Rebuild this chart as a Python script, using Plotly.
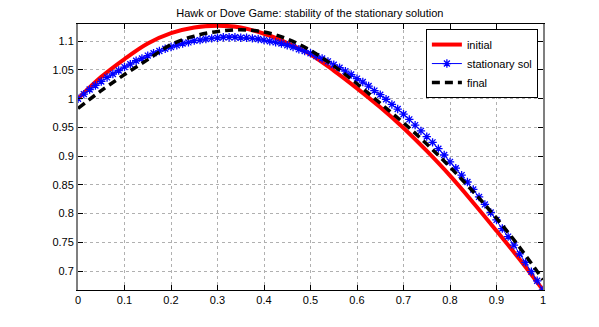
import plotly.graph_objs as go

# x grid of the stationary solution (marker points)
x_stat = [k / 80 for k in range(81)]
y_stat = [1.000, 1.008, 1.016, 1.023, 1.030, 1.037, 1.043, 1.049, 1.055, 1.060,
          1.066, 1.070, 1.075, 1.079, 1.083, 1.087, 1.090, 1.093, 1.096, 1.098,
          1.101, 1.102, 1.104, 1.105, 1.106, 1.107, 1.107, 1.107, 1.106, 1.106,
          1.105, 1.104, 1.102, 1.100, 1.098, 1.096, 1.093, 1.090, 1.086, 1.083,
          1.079, 1.074, 1.070, 1.065, 1.059, 1.054, 1.048, 1.042, 1.035, 1.029,
          1.022, 1.014, 1.007, 0.999, 0.990, 0.982, 0.973, 0.964, 0.954, 0.944,
          0.934, 0.924, 0.913, 0.902, 0.890, 0.879, 0.867, 0.855, 0.842, 0.829,
          0.816, 0.802, 0.789, 0.774, 0.760, 0.745, 0.730, 0.715, 0.699, 0.683,
          0.667]

x_curve = [0.0, 0.05, 0.1, 0.15, 0.2, 0.25, 0.3, 0.35, 0.4, 0.45, 0.5,
           0.55, 0.6, 0.65, 0.7, 0.75, 0.8, 0.85, 0.9, 0.95, 1.0]
y_initial = [1.000, 1.038, 1.069, 1.096, 1.114, 1.124, 1.127, 1.124, 1.113, 1.097, 1.077,
             1.049, 1.018, 0.985, 0.949, 0.909, 0.866, 0.819, 0.770, 0.720, 0.667]
y_final = [0.983, 1.014, 1.042, 1.068, 1.094, 1.109, 1.117, 1.120, 1.116, 1.104, 1.084,
           1.057, 1.026, 0.992, 0.958, 0.921, 0.881, 0.838, 0.792, 0.741, 0.685]

x_ticks = [0, 0.1, 0.2, 0.3, 0.4, 0.5, 0.6, 0.7, 0.8, 0.9, 1]
x_labels = ['0', '0.1', '0.2', '0.3', '0.4', '0.5', '0.6', '0.7', '0.8', '0.9', '1']
y_ticks = [0.7, 0.75, 0.8, 0.85, 0.9, 0.95, 1.0, 1.05, 1.1]
y_labels = ['0.7', '0.75', '0.8', '0.85', '0.9', '0.95', '1', '1.05', '1.1']

font_name = 'Liberation Sans, Arial, sans-serif'

data = [
    go.Scatter(x=x_curve, y=y_initial, mode='lines', name='initial', line_shape='spline',
               line=dict(color='#ff0000', width=4)),
    go.Scatter(x=x_stat, y=y_stat, mode='lines+markers', name='stationary sol',
               line=dict(color='#0000ff', width=1),
               marker=dict(symbol='asterisk', size=7, line=dict(color='#0000ff', width=1.3))),
    go.Scatter(x=x_curve, y=y_final, mode='lines', name='final', line_shape='spline',
               line=dict(color='black', width=3.5, dash='8px,5px')),
]

axis_common = dict(showgrid=True, gridcolor='#b0b0b0', griddash='dot', gridwidth=1,
                   ticks='inside', ticklen=5, tickcolor='black', mirror='ticks',
                   showline=True, zeroline=False, automargin=False,
                   tickfont=dict(family=font_name, size=11, color='black'))

# page body adds 8px around the figure
layout = go.Layout(
    width=599, height=327,
    margin=dict(l=70, r=64, t=16, b=45),
    paper_bgcolor='white', plot_bgcolor='white',
    title=dict(text='Hawk or Dove Game: stability of the stationary solution',
               x=0.504, xanchor='center', y=0.985, yanchor='middle',
               font=dict(family=font_name, size=11, color='black')),
    xaxis=dict(range=[0, 1], tickvals=x_ticks, ticktext=x_labels,
               linecolor='black', linewidth=1, **axis_common),
    yaxis=dict(range=[0.667, 1.13], tickvals=y_ticks, ticktext=y_labels,
               linecolor='#7f7f7f', linewidth=2, **axis_common),
    legend=dict(x=0.989, y=0.981, xanchor='right', yanchor='top',
                bgcolor='white', bordercolor='black', borderwidth=1,
                font=dict(family=font_name, size=11, color='black'),
                tracegroupgap=0, itemwidth=30),
    showlegend=True,
)

fig = go.Figure(data, layout)
fig.write_html("out.html")
